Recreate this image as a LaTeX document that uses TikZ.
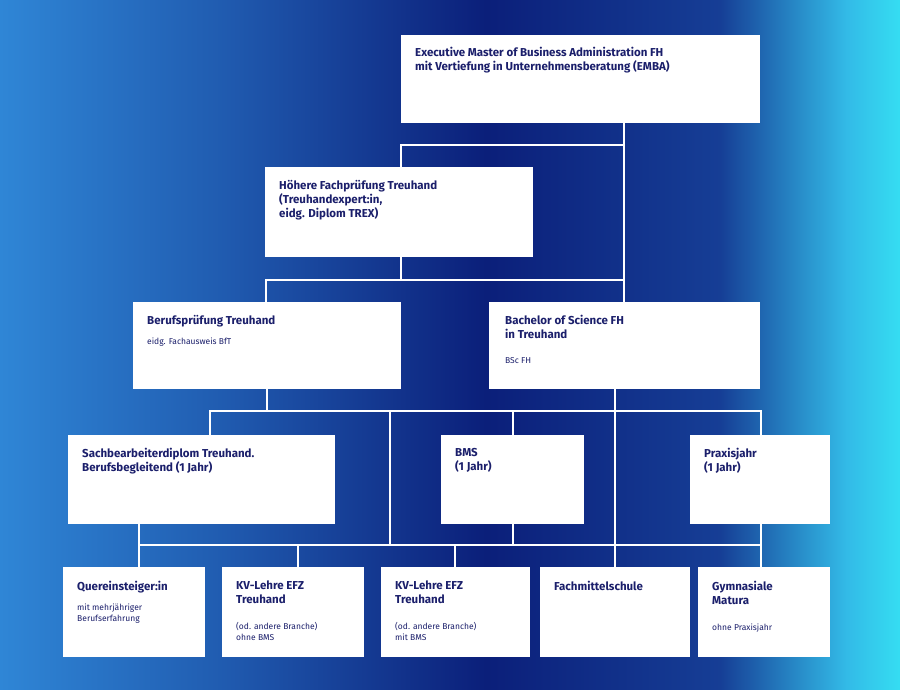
\documentclass[tikz,border=0pt]{standalone}
\usepackage{fontspec}
\setmainfont{Fira Sans}
\usetikzlibrary{positioning}
\definecolor{navy}{HTML}{1B1F6B}
\definecolor{bgleft}{HTML}{2F86D6}
\definecolor{bgmid}{HTML}{0B1F7A}
\definecolor{bgright}{HTML}{35DDF2}
\pgfdeclarehorizontalshading{backshade}{100bp}{color(0bp)=(bgleft); color(25bp)=(bgleft); color(37bp)=(bgleft!60!bgmid); color(52bp)=(bgmid); color(65bp)=(bgmid!70!bgleft); color(72bp)=(bgright!60!bgleft); color(75bp)=(bgright); color(100bp)=(bgright)}
\begin{document}
\begin{tikzpicture}[x=1pt,y=-1pt]
	\tikzstyle{box} = [draw=none,fill=white,anchor=north west,inner sep=0pt]
	\tikzstyle{head} = [anchor=north west,align=left,text=navy,font=\bfseries\fontsize{11.5}{14}\selectfont,inner sep=0pt]
	\tikzstyle{sub} = [anchor=north west,align=left,text=navy,font=\fontsize{8.5}{11}\selectfont,inner sep=0pt]
	\tikzstyle{link} = [draw=white,line width=2.2pt]

\useasboundingbox (0,0) rectangle (900,689);
\shade[shading=backshade] (0,0) rectangle (900,689);

% boxes
\node[box,minimum width=359,minimum height=88] (emba) at (401,35) {};
\node[box,minimum width=268,minimum height=90] (hfp) at (265,167) {};
\node[box,minimum width=268,minimum height=87] (bp) at (133,302) {};
\node[box,minimum width=271,minimum height=87] (bsc) at (489,302) {};
\node[box,minimum width=267,minimum height=89] (sbd) at (68,435) {};
\node[box,minimum width=143,minimum height=89] (bms) at (441,435) {};
\node[box,minimum width=140,minimum height=89] (praxis) at (690,435) {};
\node[box,minimum width=142,minimum height=90] (quer) at (63,567) {};
\node[box,minimum width=142,minimum height=90] (kva) at (222,567) {};
\node[box,minimum width=149,minimum height=90] (kvb) at (381,567) {};
\node[box,minimum width=150,minimum height=90] (fms) at (540,567) {};
\node[box,minimum width=132,minimum height=90] (gym) at (698,567) {};

% texts
\node[head] at (415,47) {Executive Master of Business Administration FH\\mit Vertiefung in Unternehmensberatung (EMBA)};
\node[head] at (279,180) {Höhere Fachprüfung Treuhand\\(Treuhandexpert:in,\\eidg. Diplom TREX)};
\node[head] at (147,315) {Berufsprüfung Treuhand};
\node[sub] at (147,338) {eidg. Fachausweis BfT};
\node[head] at (505,315) {Bachelor of Science FH\\in Treuhand};
\node[sub] at (505,357) {BSc FH};
\node[head] at (82,448) {Sachbearbeiterdiplom Treuhand.\\Berufsbegleitend (1 Jahr)};
\node[head] at (455,448) {BMS\\(1 Jahr)};
\node[head] at (704,448) {Praxisjahr\\(1 Jahr)};
\node[head] at (77,581) {Quereinsteiger:in};
\node[sub] at (77,604) {mit mehrjähriger\\Berufserfahrung};
\node[head] at (236,581) {KV-Lehre EFZ\\Treuhand};
\node[sub] at (236,622) {(od. andere Branche)\\ohne BMS};
\node[head] at (395,581) {KV-Lehre EFZ\\Treuhand};
\node[sub] at (395,622) {(od. andere Branche)\\mit BMS};
\node[head] at (554,581) {Fachmittelschule};
\node[head] at (712,581) {Gymnasiale\\Matura};
\node[sub] at (712,624) {ohne Praxisjahr};

% junctions
\coordinate (j1) at (624,145);
\coordinate (j2) at (401,145);
\coordinate (j3) at (401,280);
\coordinate (j4) at (266,280);
\coordinate (j5) at (624,280);
\coordinate (t1) at (210,411);
\coordinate (t2) at (267,411);
\coordinate (t3) at (390,411);
\coordinate (t4) at (513,411);
\coordinate (t5) at (615,411);
\coordinate (t6) at (761,411);
\coordinate (b1) at (139,545);
\coordinate (b2) at (298,545);
\coordinate (b3) at (390,545);
\coordinate (b4) at (455,545);
\coordinate (b5) at (513,545);
\coordinate (b6) at (615,545);
\coordinate (b7) at (761,545);

% connectors
\draw[link] (emba.south -| j1) -- (j1 |- bsc.north);
\draw[link] (j1) -- (j2) -- (j2 |- hfp.north);
\draw[link] (j3 |- hfp.south) -- (j3);
\draw[link] (j4 |- bp.north) -- (j4) -- (j5);
\draw[link] (t2 |- bp.south) -- (t2);
\draw[link] (t1 |- sbd.north) -- (t1) -- (t6) -- (t6 |- praxis.north);
\draw[link] (t4) -- (t4 |- bms.north);
\draw[link] (t5 |- bsc.south) -- (t5) -- (t5 |- fms.north);
\draw[link] (t3) -- (b3);
\draw[link] (b1 |- sbd.south) -- (b1) -- (b7);
\draw[link] (b5 |- bms.south) -- (b5);
\draw[link] (b7 |- praxis.south) -- (b7 |- gym.north);
\draw[link] (b1) -- (b1 |- quer.north);
\draw[link] (b2) -- (b2 |- kva.north);
\draw[link] (b4) -- (b4 |- kvb.north);
\end{tikzpicture}
\end{document}
